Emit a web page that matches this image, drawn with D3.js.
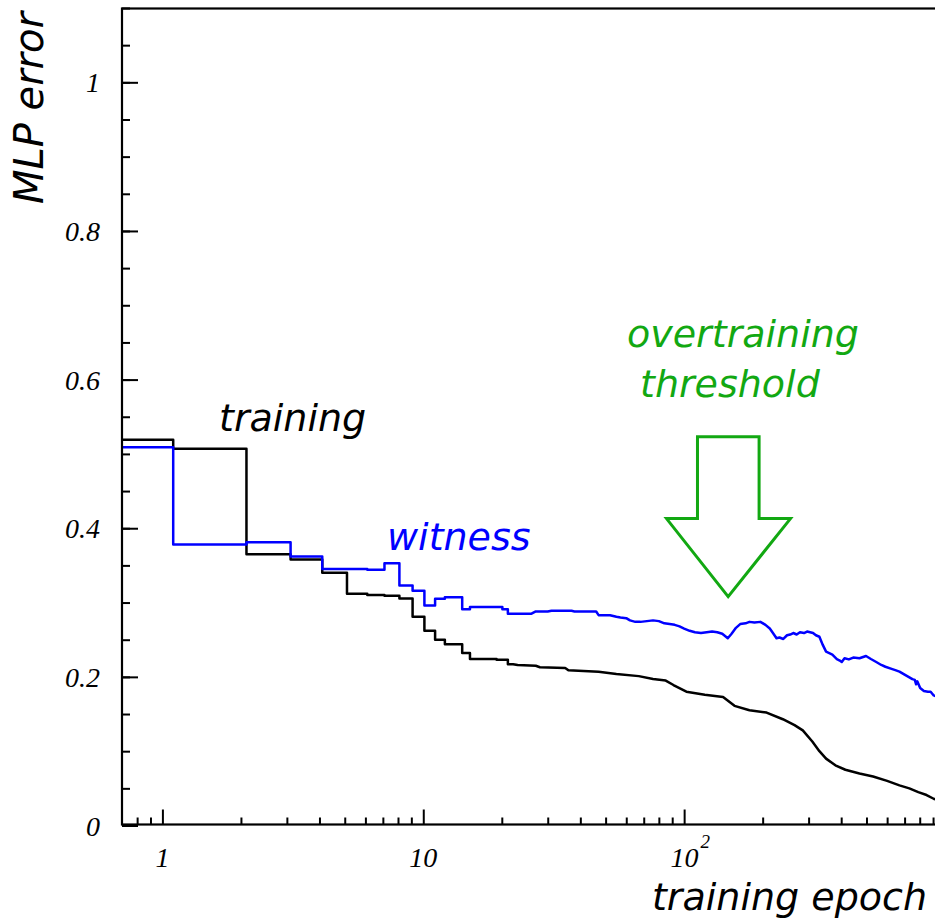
<!DOCTYPE html>
<html>
<head>
<meta charset="utf-8">
<script src="https://cdn.jsdelivr.net/npm/d3@7"></script>
<style>
  html, body { margin: 0; padding: 0; background: #fff; }
  svg { display: block; }
</style>
</head>
<body>
<svg id="chart" width="935" height="919"></svg>
<script>
// MLP error per training epoch, one value per epoch for the early epochs
const trainingSteps = [0.519, 0.507, 0.365, 0.358, 0.340, 0.312, 0.310, 0.309, 0.3056, 0.281,
                       0.262, 0.250, 0.244, 0.244, 0.232, 0.224, 0.224, 0.224, 0.224, 0.223,
                       0.223, 0.217];
const witnessSteps  = [0.509, 0.378, 0.381, 0.362, 0.345, 0.345, 0.344, 0.353, 0.323, 0.316,
                       0.296, 0.305, 0.307, 0.307, 0.291, 0.294, 0.294, 0.294, 0.294, 0.294,
                       0.291, 0.285];

// later epochs: [epoch, error]
const trainingTail = [
  [23, 0.216], [27, 0.215], [28, 0.213], [35, 0.212], [36, 0.209], [47, 0.207], [55, 0.204],
  [67, 0.201], [76, 0.197], [85, 0.195], [91, 0.189], [102, 0.180], [120, 0.176], [141, 0.173],
  [156, 0.161], [178, 0.155], [207, 0.152], [239, 0.143], [265, 0.135], [285, 0.128],
  [310, 0.113], [330, 0.100], [350, 0.090], [380, 0.081], [415, 0.075], [470, 0.070],
  [530, 0.066], [600, 0.060], [669, 0.054], [730, 0.050], [790, 0.045], [850, 0.041],
  [905, 0.036], [920, 0.035]
];
const witnessTail = [
  [26, 0.285], [27, 0.288], [30, 0.288], [31, 0.289], [37, 0.289], [38, 0.288], [46, 0.288],
  [47, 0.283], [52, 0.283], [55, 0.281], [57, 0.280], [60, 0.279], [62, 0.276], [65, 0.274],
  [68, 0.274], [72, 0.275], [76, 0.276], [80, 0.275], [84, 0.272], [88, 0.271], [92, 0.270],
  [96, 0.268], [100, 0.265], [105, 0.262], [110, 0.260], [116, 0.259], [122, 0.260],
  [128, 0.261], [134, 0.260], [140, 0.258], [147, 0.252], [152, 0.258], [158, 0.266],
  [164, 0.271], [172, 0.272], [178, 0.274], [186, 0.273], [196, 0.274], [205, 0.270],
  [213, 0.265], [220, 0.258], [226, 0.252], [232, 0.253], [240, 0.251], [248, 0.256],
  [255, 0.257], [262, 0.259], [270, 0.257], [278, 0.260], [288, 0.259], [296, 0.261],
  [304, 0.260], [312, 0.259], [320, 0.256], [330, 0.254], [340, 0.243], [350, 0.234],
  [360, 0.232], [370, 0.230], [385, 0.224], [395, 0.222], [402, 0.220], [412, 0.225],
  [428, 0.2235], [445, 0.226], [470, 0.225], [498, 0.228], [520, 0.224], [545, 0.220],
  [570, 0.216], [591, 0.2136], [620, 0.211], [645, 0.209], [669, 0.207], [700, 0.203],
  [733, 0.199], [750, 0.197], [766, 0.196], [775, 0.190], [783, 0.194], [803, 0.185],
  [830, 0.181], [860, 0.180], [881, 0.180], [905, 0.175], [920, 0.174]
];

// overtraining marker: down arrow outline, [epoch, error]
const arrowOutline = [
  [112.5, 0.523], [193.8, 0.523], [193.8, 0.413], [255.7, 0.413],
  [147.5, 0.308], [85.6, 0.413], [112.5, 0.413]
];

// axis ticks
const yMajorTicks = [0, 0.2, 0.4, 0.6, 0.8, 1];
const yTickLabels = ["0", "0.2", "0.4", "0.6", "0.8", "1"];
const yMinorTicks = d3.range(0, 1.1001, 0.05);
const xMajorTicks = [1, 10, 100];
const xTickLabels = [["1", ""], ["10", ""], ["10", "2"]];
const xMinorTicks = [0.8, 0.9, 2, 3, 4, 5, 6, 7, 8, 9, 20, 30, 40, 50, 60, 70, 80, 90,
                     200, 300, 400, 500, 600, 700, 800, 900];

const binOffset = 0.1;  // histogram bin edges sit at epoch + 0.1

const svg = d3.select("#chart");
const x = d3.scaleLog().domain([0.7, 1000]).range([122, 945]);
const y = d3.scaleLinear().domain([0, 1.1]).range([825.5, 8]);

svg.append("defs").append("clipPath").attr("id", "plotClip")
  .append("rect").attr("x", 122).attr("y", 8).attr("width", 823).attr("height", 817.5);

// step part followed by the tail as a polyline
function vertices(steps, tail) {
  const pts = [];
  steps.forEach((v, i) => {
    const k = i + 1;
    pts.push([Math.max(k - 1 + binOffset, 0.7), v]);
    pts.push([k + binOffset, v]);
  });
  const last = steps.length + binOffset;
  tail.forEach(p => { if (p[0] >= last) pts.push(p); });
  return pts;
}

const line = d3.line().x(d => x(d[0])).y(d => y(d[1]));
const plot = svg.append("g").attr("clip-path", "url(#plotClip)");

plot.append("path").datum(vertices(trainingSteps, trainingTail))
  .attr("d", line).attr("fill", "none").attr("stroke", "#000")
  .attr("stroke-width", 2.5).attr("stroke-linejoin", "round");
plot.append("path").datum(vertices(witnessSteps, witnessTail))
  .attr("d", line).attr("fill", "none").attr("stroke", "#0000ff")
  .attr("stroke-width", 2.5).attr("stroke-linejoin", "round");

// frame
svg.append("rect").attr("x", 122).attr("y", 8.5).attr("width", 823).attr("height", 816)
  .attr("fill", "none").attr("stroke", "#000").attr("stroke-width", 2.2);

// y ticks (inward)
svg.append("g").attr("transform", "translate(122,0)")
  .call(d3.axisRight(y).tickValues(yMinorTicks).tickSize(8).tickFormat(""))
  .call(g => g.select(".domain").remove())
  .call(g => g.selectAll("line").attr("stroke-width", 2));
svg.append("g").attr("transform", "translate(122,0)")
  .call(d3.axisRight(y).tickValues(yMajorTicks).tickSize(16).tickFormat(""))
  .call(g => g.select(".domain").remove())
  .call(g => g.selectAll("line").attr("stroke-width", 2));

// x ticks (inward)
svg.append("g").attr("transform", "translate(0,824.5)")
  .call(d3.axisTop(x).tickValues(xMinorTicks).tickSize(7).tickFormat(""))
  .call(g => g.select(".domain").remove())
  .call(g => g.selectAll("line").attr("stroke-width", 2));
svg.append("g").attr("transform", "translate(0,824.5)")
  .call(d3.axisTop(x).tickValues(xMajorTicks).tickSize(15).tickFormat(""))
  .call(g => g.select(".domain").remove())
  .call(g => g.selectAll("line").attr("stroke-width", 2));

const serif = "'Liberation Serif', 'Times New Roman', serif";
const sans = "'DejaVu Sans', Verdana, sans-serif";

// y tick labels
svg.append("g").selectAll("text").data(yMajorTicks).join("text")
  .attr("x", 100).attr("y", d => y(d) + 10)
  .attr("text-anchor", "end")
  .attr("font-family", serif).attr("font-style", "italic").attr("font-size", 28)
  .text((d, i) => yTickLabels[i]);

// x tick labels
const xl = svg.append("g").selectAll("text").data(xMajorTicks).join("text")
  .attr("x", d => x(d)).attr("y", 867)
  .attr("text-anchor", "middle")
  .attr("font-family", serif).attr("font-style", "italic").attr("font-size", 28);
xl.append("tspan").text((d, i) => xTickLabels[i][0]);
xl.append("tspan").attr("dy", -19).attr("dx", 2).attr("font-size", 19)
  .text((d, i) => xTickLabels[i][1]);
xl.attr("dx", (d, i) => xTickLabels[i][1] ? 6 : 0);

// axis titles
svg.append("text").attr("transform", "translate(43,12) rotate(-90)")
  .attr("text-anchor", "end")
  .attr("font-family", sans).attr("font-style", "italic").attr("font-size", 40)
  .text("MLP error");
svg.append("text").attr("x", 927).attr("y", 910).attr("text-anchor", "end")
  .attr("font-family", sans).attr("font-style", "italic").attr("font-size", 38)
  .text("training epoch");

// curve labels
svg.append("text").attr("x", 219).attr("y", 431)
  .attr("font-family", sans).attr("font-style", "italic").attr("font-size", 38)
  .attr("fill", "#000").text("training");
svg.append("text").attr("x", 387).attr("y", 550)
  .attr("font-family", sans).attr("font-style", "italic").attr("font-size", 38)
  .attr("fill", "#0000ff").text("witness");

// overtraining threshold marker
const green = "#12a812";
svg.append("text").attr("x", 627).attr("y", 347)
  .attr("font-family", sans).attr("font-style", "italic").attr("font-size", 38)
  .attr("fill", green).text("overtraining");
svg.append("text").attr("x", 640).attr("y", 397)
  .attr("font-family", sans).attr("font-style", "italic").attr("font-size", 38)
  .attr("fill", green).text("threshold");
svg.append("path").datum(arrowOutline)
  .attr("d", d => line(d) + "Z")
  .attr("fill", "none").attr("stroke", green).attr("stroke-width", 3)
  .attr("stroke-linejoin", "miter");
</script>
</body>
</html>
